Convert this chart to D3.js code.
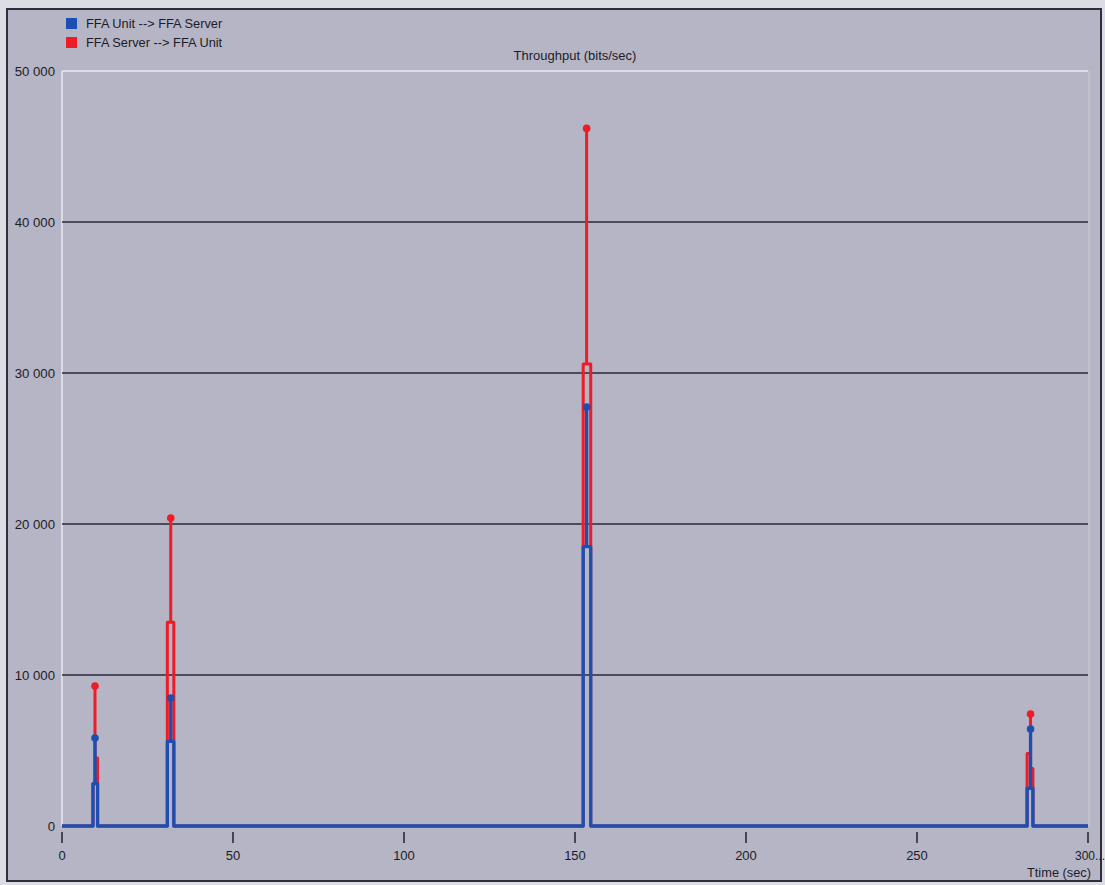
<!DOCTYPE html>
<html><head><meta charset="utf-8">
<script src="https://cdn.jsdelivr.net/npm/d3@7"></script>
<style>body{margin:0;background:#e4e4ea}svg{display:block}text{font-family:"Liberation Sans",Arial,sans-serif;fill:#1c1c28}</style>
</head><body>
<script>
// ---- data ----
const seriesNames = ["FFA Unit --> FFA Server", "FFA Server --> FFA Unit"];
const timeSec = [0, 9.06,9.06,9.65,9.65,9.65,10.4,10.4, 30.8,30.8,31.8,31.8,31.8,32.7,32.7, 152.4,152.4,153.4,153.4,153.4,154.6,154.6, 282.2,282.2,283.2,283.2,283.2,283.9,283.9, 300];
const unitToServer = [0, 0,2800,2800,5830,2800,2800,0, 0,5600,5600,8480,5600,5600,0, 0,18500,18500,27750,18500,18500,0, 0,2500,2500,6420,2500,2500,0, 0];
const serverToUnit = [0, 0,2800,2800,9270,4500,4500,0, 0,13500,13500,20400,13500,13500,0, 0,30600,30600,46200,30600,30600,0, 0,4800,4800,7420,3800,3800,0, 0];
const yTicks = [0, 10000, 20000, 30000, 40000, 50000];
const xTicks = [0, 50, 100, 150, 200, 250, 300];
const chartTitle = "Throughput (bits/sec)";
const xTitle = "Ttime (sec)";

const W = 1105, H = 885;
const colors = ["#1c4fb2", "#ee1c24"];
const bg = "#b6b5c5";

const svg = d3.select("body").append("svg").attr("width", W).attr("height", H);
// outer frame
svg.append("rect").attr("x", 0).attr("y", 0).attr("width", W).attr("height", H).attr("fill", "#dcdce4");
svg.append("rect").attr("x", 7).attr("y", 9).attr("width", 1094).attr("height", 872)
  .attr("fill", bg).attr("stroke", "#2e2e3c").attr("stroke-width", 2);

const x = d3.scaleLinear().domain([0, 300]).range([62, 1088]);
const y = d3.scaleLinear().domain([0, 50000]).range([826, 71]);

// plot area borders (light)
svg.append("line").attr("x1", x(0)).attr("x2", x(300)).attr("y1", y(50000)).attr("y2", y(50000)).attr("stroke", "#e8e8f0").attr("stroke-width", 1.5);
svg.append("line").attr("x1", x(0)).attr("x2", x(0)).attr("y1", y(50000)).attr("y2", y(0)).attr("stroke", "#e8e8f0").attr("stroke-width", 1.5);
svg.append("line").attr("x1", x(300)+1).attr("x2", x(300)+1).attr("y1", y(50000)).attr("y2", y(0)).attr("stroke", "#d6c8d6").attr("stroke-width", 1);

// gridlines
svg.append("g").selectAll("line").data(yTicks.filter(v => v > 0 && v < 50000)).join("line")
  .attr("x1", x(0)).attr("x2", x(300)).attr("y1", d => y(d)).attr("y2", d => y(d))
  .attr("stroke", "#2a2a38").attr("stroke-width", 1.6);

// y labels
const fmt = v => v === 0 ? "0" : d3.format(",")(v).replace(/,/g, " ");
svg.append("g").selectAll("text").data(yTicks).join("text")
  .attr("x", 55).attr("y", d => y(d)).attr("dy", "0.36em").attr("text-anchor", "end")
  .attr("font-size", 13.2).text(fmt);

// x axis ticks
const xa = svg.append("g");
xa.selectAll("line").data(xTicks).join("line")
  .attr("x1", d => x(d)).attr("x2", d => x(d)).attr("y1", 832).attr("y2", 843)
  .attr("stroke", "#2a2a38").attr("stroke-width", 1.6);
xa.selectAll("text").data(xTicks).join("text")
  .attr("x", d => d === 300 ? x(d) - 13 : x(d)).attr("y", 860)
  .attr("text-anchor", d => d === 300 ? "start" : "middle").attr("font-size", d => d === 300 ? 12 : 13)
  .text(d => d === 300 ? "300..." : d);
svg.append("text").attr("x", 1091).attr("y", 877).attr("text-anchor", "end").attr("font-size", 12.8).text(xTitle);
svg.append("text").attr("x", 575).attr("y", 60).attr("text-anchor", "middle").attr("font-size", 13).text(chartTitle);

// legend
const lg = svg.append("g");
seriesNames.forEach((n, i) => {
  lg.append("rect").attr("x", 66).attr("y", 18 + i * 19).attr("width", 11).attr("height", 11).attr("fill", colors[i]);
  lg.append("text").attr("x", 86).attr("y", 28 + i * 19).attr("font-size", 12.8).text(n);
});

// series
const line = d3.line().x((d, i) => x(timeSec[i])).y(d => y(d));
const order = [[serverToUnit, 1], [unitToServer, 0]];
order.forEach(([vals, ci]) => {
  svg.append("path").attr("d", line(vals)).attr("fill", "none")
    .attr("stroke", colors[ci]).attr("stroke-width", ci === 0 ? 3.3 : 3).attr("stroke-linejoin", "round");
});
order.forEach(([vals, ci]) => {
  const peaks = vals.map((v, i) => ({v, i})).filter(d => d.i > 0 && d.i < vals.length - 1 && d.v > vals[d.i-1] && d.v > vals[d.i+1]);
  svg.append("g").selectAll("circle").data(peaks).join("circle")
    .attr("cx", d => x(timeSec[d.i])).attr("cy", d => y(d.v)).attr("r", 3.8).attr("fill", colors[ci]);
});
</script>
</body></html>
